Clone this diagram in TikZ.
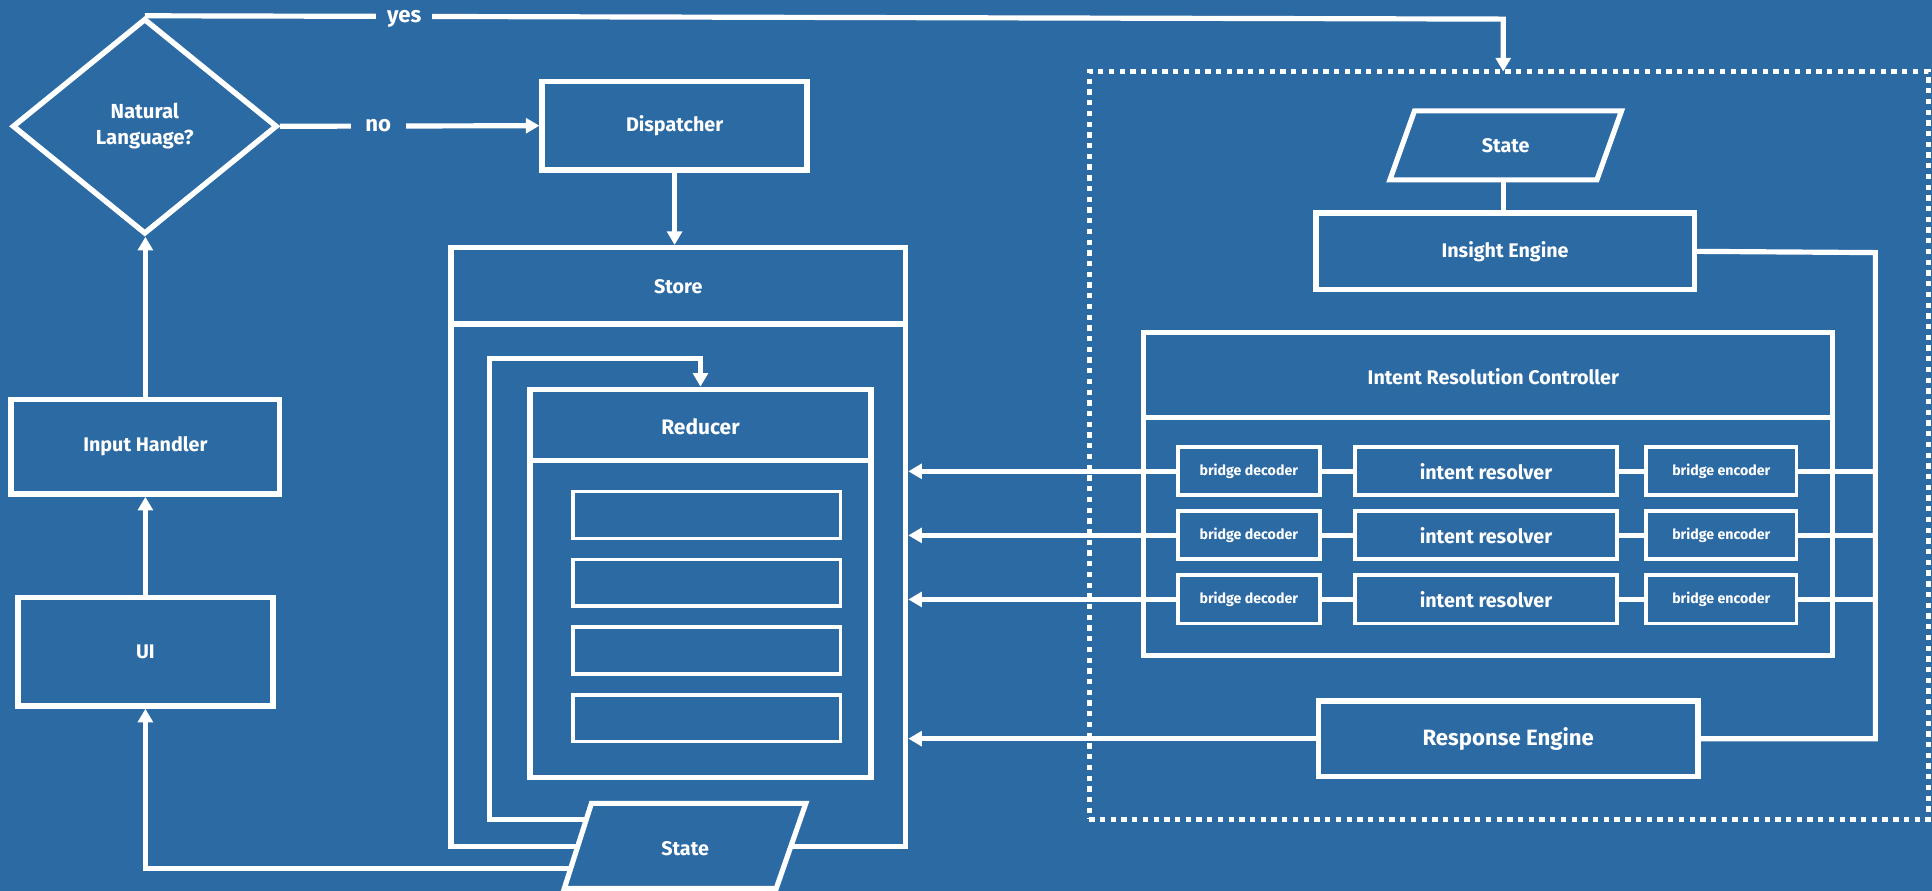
\documentclass[tikz,border=0pt]{standalone}
\usepackage{fontspec}
\setmainfont{Fira Sans}
\usetikzlibrary{shapes.geometric,arrows.meta}
\definecolor{bg}{RGB}{44,106,163}
\begin{document}
\begin{tikzpicture}[x=1pt,y=-1pt,
  box/.style={draw=white, line width=4.4pt, text=white, inner sep=0pt, align=center,
    font=\bfseries\fontsize{16}{19}\selectfont},
  sbox/.style={box, line width=3.2pt},
  lbl/.style={text=white, inner sep=0pt, align=center, font=\bfseries\fontsize{16}{19}\selectfont},
  gap/.style={lbl, fill=bg, inner xsep=9pt, inner ysep=4pt, font=\bfseries\fontsize{18}{20}\selectfont},
  ln/.style={draw=white, line width=4.2pt},
  arr/.style={ln, -{Triangle[length=11pt,width=12pt]}},
  dotbox/.style={draw=white, line width=4.3pt, dash pattern=on 4.3pt off 4.4pt}]
\fill[bg] (0,0) rectangle (1568,723);
\useasboundingbox (0,0) rectangle (1568,723);

% ---------- left column ----------
\node[box, diamond, minimum width=215, minimum height=175, font=\bfseries\fontsize{16.5}{21}\selectfont] (nl) at (117.5,102.5) {Natural\\Language?};
\node[box, minimum width=218, minimum height=77] (ih) at (118,362.5) {Input Handler};
\node[box, minimum width=207, minimum height=88] (ui) at (118,529) {UI};
\draw[arr] (ui.north) -- (ui.north |- ih.south);
\draw[arr] (ih.north) -- (ih.north |- nl.south);

% ---------- dispatcher / store ----------
\node[box, minimum width=215, minimum height=72] (disp) at (547.5,102) {Dispatcher};
\node[box, minimum width=369, minimum height=486] (store) at (550.5,444) {};
\node[lbl] (storet) at (550.5,233) {Store};
\draw[ln] (store.west |- 0,263) -- (store.east |- 0,263);
\draw[arr] (disp.south) -- (disp.south |- store.north);

\node[box, minimum width=277, minimum height=315] (red) at (568.5,473.5) {};
\node[lbl, font=\bfseries\fontsize{17}{20}\selectfont] (redt) at (568.5,346) {Reducer};
\draw[ln] (red.west |- 0,374) -- (red.east |- 0,374);
\node[sbox, line width=2.8pt, minimum width=217, minimum height=38] (r1) at (573.5,418) {};
\node[sbox, line width=2.8pt, minimum width=217, minimum height=38] (r2) at (573.5,473) {};
\node[sbox, line width=2.8pt, minimum width=217, minimum height=38] (r3) at (573.5,528) {};
\node[sbox, line width=2.8pt, minimum width=217, minimum height=38] (r4) at (573.5,583) {};

% loop inside the store
\coordinate (loopA) at (490,665);
\draw[arr] (loopA) -- (397,665) -- (397,291) -| (red.north);

% bottom state
\coordinate (stL) at (480,705);
\draw[arr] (stL) -| (ui.south);
\draw[ln, fill=bg] (480,652) -- (654,652) -- (630,721) -- (458,721) -- cycle;
\node[lbl] (st2) at (556,689) {State};

% ---------- no / yes ----------
\draw[arr] (nl.east) -- (disp.west);
\node[gap, inner xsep=12pt] (no) at (307,102) {no};
\coordinate (yesT) at (1220,58);
\draw[arr] (nl.north) -- (1220,15.5) -- (yesT);
\node[gap] (yes) at (328,15.5) {yes};

% ---------- right block ----------
\node[dotbox, minimum width=681, minimum height=607] (dot) at (1224.5,361.5) {};

\draw[ln, fill=bg] (1148,90) -- (1316,90) -- (1296,146) -- (1128,146) -- cycle;
\node[lbl] (st1) at (1222,118) {State};
\coordinate (st1b) at (1220,146);
\node[box, minimum width=307, minimum height=62] (ins) at (1221.5,204) {Insight Engine};
\draw[ln] (st1b) -- (st1b |- ins.north);

\node[box, minimum width=559, minimum height=262] (irc) at (1207.5,401) {};
\node[lbl] (irct) at (1212,306) {Intent Resolution Controller};
\draw[ln] (irc.west |- 0,339) -- (irc.east |- 0,339);

\node[box, minimum width=308, minimum height=61, font=\bfseries\fontsize{18}{21}\selectfont] (resp) at (1224,599.5) {Response Engine};

\coordinate (bus) at (1522,205);
\draw[ln] (ins.east) -- (bus) -- (bus |- resp.east) -- (resp.east);

\foreach \i/\y in {1/382.5,2/434.5,3/486.5}{
  \node[sbox, minimum width=115, minimum height=39, font=\bfseries\fontsize{11.5}{14}\selectfont] (dec\i) at (1013.5,\y) {bridge decoder};
  \node[sbox, minimum width=212, minimum height=39, font=\bfseries\fontsize{16}{19}\selectfont] (res\i) at (1206,\y) {intent resolver};
  \node[sbox, minimum width=122, minimum height=39, font=\bfseries\fontsize{11.5}{14}\selectfont] (enc\i) at (1397,\y) {bridge encoder};
  \draw[ln] (dec\i) -- (res\i);
  \draw[ln] (res\i) -- (enc\i);
  \draw[ln] (enc\i.east) -- (enc\i.east -| bus);
  \draw[arr] (dec\i.west) -- (dec\i.west -| store.east);
}
\draw[arr] (resp.west) -- (resp.west -| store.east);
\end{tikzpicture}
\end{document}
